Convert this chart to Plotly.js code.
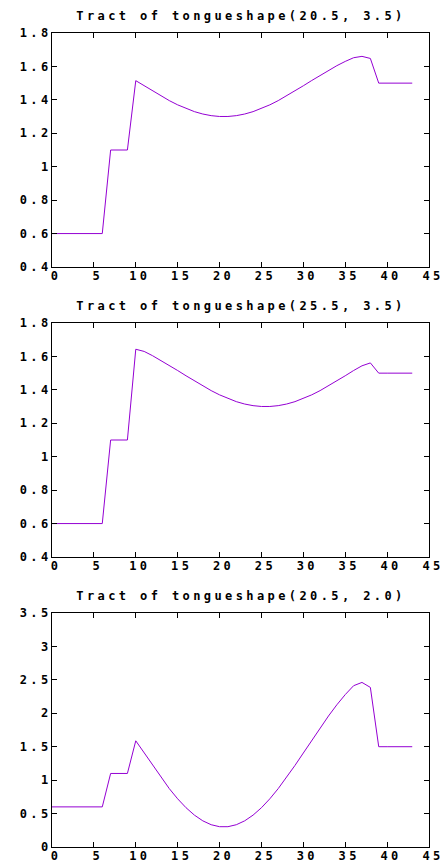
<!DOCTYPE html>
<html>
<head>
<meta charset="utf-8">
<script src="https://cdn.plot.ly/plotly-3.0.1.min.js"></script>
<style>
html,body{margin:0;padding:0;background:#fff;}
#chart{width:446px;height:863px;}
.main-svg text{letter-spacing:3.4px; font-weight:bold !important;}
</style>
</head>
<body>
<div id="chart"></div>
<script>
// Tract index (0..43)
const tractIndex = [0,1,2,3,4,5,6,7,8,9,10,11,12,13,14,15,16,17,18,19,20,21,22,23,24,25,26,27,28,29,30,31,32,33,34,35,36,37,38,39,40,41,42,43];

// Diameters for tongueshape(20.5, 3.5)
const diamA = [0.6,0.6,0.6,0.6,0.6,0.6,0.6,1.1,1.1,1.1,
  1.5148,1.4843,1.4533,1.4235,1.3955,1.3701,1.3479,1.3295,1.3152,1.3055,1.3006,
  1.3006,1.3055,1.3152,1.3295,1.3479,1.3701,1.3955,1.4235,1.4533,1.4843,
  1.5157,1.5467,1.5765,1.6045,1.6299,1.6521,1.6603,1.6478,
  1.5,1.5,1.5,1.5,1.5];

// Diameters for tongueshape(25.5, 3.5)
const diamB = [0.6,0.6,0.6,0.6,0.6,0.6,0.6,1.1,1.1,1.1,
  1.6430,1.6299,1.6045,1.5765,1.5467,1.5157,1.4843,1.4533,1.4235,1.3955,1.3701,
  1.3479,1.3295,1.3152,1.3055,1.3006,1.3006,1.3055,1.3152,1.3295,1.3479,
  1.3701,1.3955,1.4235,1.4533,1.4843,1.5157,1.5439,1.5612,
  1.5,1.5,1.5,1.5,1.5];

// Diameters for tongueshape(20.5, 2.0)
const diamC = [0.6,0.6,0.6,0.6,0.6,0.6,0.6,1.1,1.1,1.1,
  1.5885,1.4059,1.2199,1.0408,0.8730,0.7207,0.5875,0.4768,0.3913,0.3332,0.3037,
  0.3037,0.3332,0.3913,0.4768,0.5875,0.7207,0.8730,1.0408,1.2199,1.4059,
  1.5942,1.7801,1.9592,2.1270,2.2793,2.4125,2.4618,2.3869,
  1.5,1.5,1.5,1.5,1.5];

const titles = ["Tract of tongueshape(20.5, 3.5)", "Tract of tongueshape(25.5, 3.5)", "Tract of tongueshape(20.5, 2.0)"];
const xTicks = [0,5,10,15,20,25,30,35,40,45];
const yRanges = [[0.4,1.8],[0.4,1.8],[0,3.5]];
const yDticks = [0.2,0.2,0.5];

const lineColor = "#9400d3";
const font = {family:"DejaVu Sans Mono", size:12, color:"#000", weight:"bold"};

const series = [diamA, diamB, diamC];
const traces = series.map((ys,k)=>({
  x: tractIndex, y: ys, type:"scatter", mode:"lines",
  line:{color:lineColor, width:1},
  xaxis: k===0 ? "x" : "x"+(k+1),
  yaxis: k===0 ? "y" : "y"+(k+1),
  hoverinfo:"skip", showlegend:false
}));

const domains = [[0.71253,1.0],[0.35627,0.64373],[0,0.28747]];
const layout = {
  width:446, height:863,
  margin:{l:52, r:17, t:33, b:16},
  paper_bgcolor:"#fff", plot_bgcolor:"#fff",
  font: font,
  showlegend:false,
  annotations: []
};
const titleY = [16, 306, 596];
for (let k=0;k<3;k++){
  const sx = k===0 ? "" : String(k+1);
  layout["xaxis"+sx] = {
    domain:[0,1], range:[0,45], tickvals:xTicks, ticktext:xTicks.map(String),
    anchor: "y"+sx, showgrid:false, zeroline:false,
    showline:true, linecolor:"#000", linewidth:1, mirror:"ticks",
    ticks:"inside", ticklen:5, tickcolor:"#000", tickfont:font, automargin:false,
    ticklabelshift:4, ticklabelstandoff:-2
  };
  layout["yaxis"+sx] = {
    domain:domains[k], range:yRanges[k], dtick:yDticks[k], tick0:0,
    anchor: "x"+sx, showgrid:false, zeroline:false,
    showline:true, linecolor:"#000", linewidth:1, mirror:"ticks",
    ticks:"inside", ticklen:5, tickcolor:"#000", tickfont:font, automargin:false,
    ticklabelstandoff:-3
  };
  layout.annotations.push({
    text: titles[k], xref:"paper", yref:"paper",
    x: 0.5, y: (847 - titleY[k]) / 814, xanchor:"center", yanchor:"middle",
    showarrow:false, font:font
  });
}
Plotly.newPlot("chart", traces, layout, {staticPlot:true, displayModeBar:false});
</script>
</body>
</html>
